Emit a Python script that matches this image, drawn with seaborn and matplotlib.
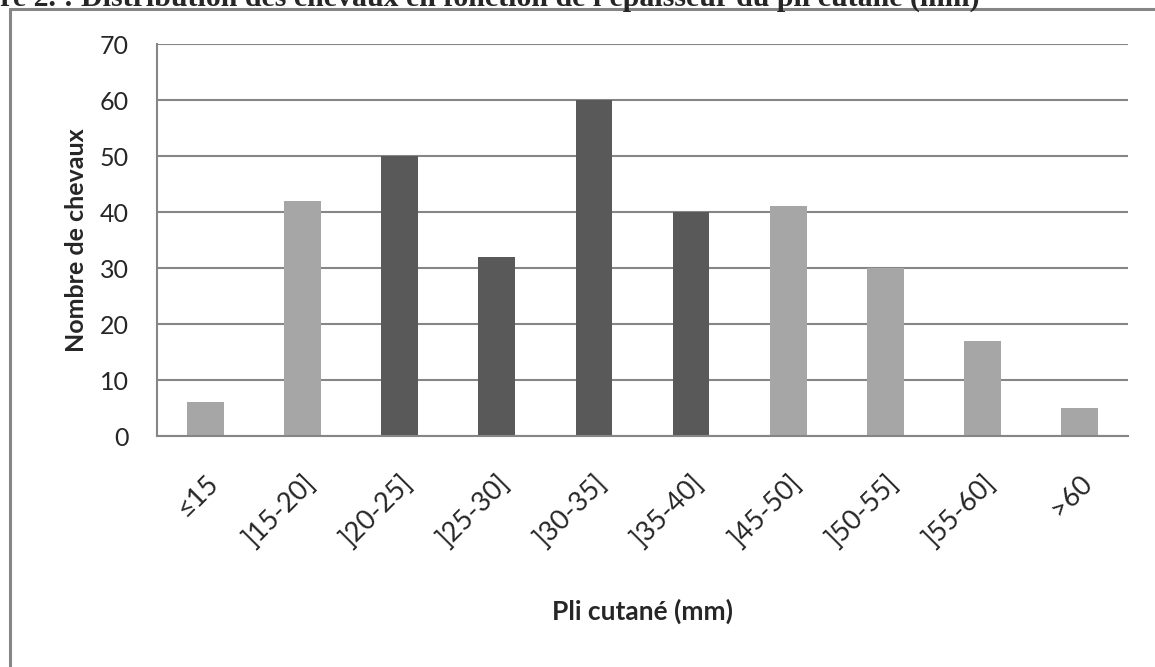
import matplotlib
matplotlib.use('Agg')
import matplotlib.pyplot as plt
import seaborn as sns
import pandas as pd
import numpy as np
from matplotlib.lines import Line2D

# data
classes = ['≤15', ']15-20]', ']20-25]', ']25-30]', ']30-35]', ']35-40]',
           ']45-50]', ']50-55]', ']55-60]', '>60']
nb_chevaux = [6, 42, 50, 32, 60, 40, 41, 30, 17, 5]
groupe = ['clair', 'clair', 'fonce', 'fonce', 'fonce', 'fonce',
          'clair', 'clair', 'clair', 'clair']

df = pd.DataFrame({'classe': classes, 'n': nb_chevaux, 'groupe': groupe})
couleurs = {'clair': '#a6a6a6', 'fonce': '#595959'}
gris = '#868686'

sns.set_style('white')
plt.rcParams['font.family'] = ['Lato', 'DejaVu Sans']

fig = plt.figure(figsize=(11.55, 6.67), dpi=100)
ax = fig.add_axes([157/1155, 1-436/667, (1128-157)/1155, (436-44)/667])

sns.barplot(data=df, x='classe', y='n', hue='groupe', palette=couleurs,
            width=0.38, dodge=False, legend=False, ax=ax, saturation=1,
            linewidth=0, edgecolor='none')

ax.set_ylim(0, 70)
ax.set_xlim(-0.5, len(classes) - 0.5)
ax.set_yticks(np.arange(0, 71, 10))
ax.yaxis.grid(True, color=gris, linewidth=1.5)
ax.set_axisbelow(True)

for s in ['top', 'right']:
    ax.spines[s].set_visible(False)
for s in ['left', 'bottom']:
    ax.spines[s].set_color(gris)
    ax.spines[s].set_linewidth(1.5)

# ticks between categories on x, labels at centers
ax.set_xticks(np.arange(-0.5, len(classes)), minor=True)
ax.tick_params(axis='x', which='minor', length=8, width=1.5, color=gris, direction='out')
ax.tick_params(axis='x', which='major', length=0, pad=25, labelsize=19.5)
ax.tick_params(axis='y', length=7.5, width=1.5, color=gris, direction='out', pad=13, labelsize=18)
ax.set_xticklabels(classes, rotation=45, ha='right', rotation_mode='anchor')

ax.set_xlabel('Pli cutané (mm)', fontsize=19, fontweight='bold')
ax.xaxis.set_label_coords(0.5, -0.415)
ax.set_ylabel('Nombre de chevaux', fontsize=18, fontweight='bold', labelpad=8)

# cadre du graphique (coupé en bas et à droite)
fig.add_artist(Line2D([9.5/1155, 9.5/1155], [-0.1, 1-9/667], color=gris, linewidth=2.2,
                      transform=fig.transFigure))
fig.add_artist(Line2D([9.5/1155, 1.1], [1-9/667, 1-9/667], color=gris, linewidth=2.2,
                      transform=fig.transFigure))

# titre coupé en haut de l'image
fig.text(980/1155, 1-6/667, "Figure 2. : Distribution des chevaux en fonction de l'épaisseur du pli cutané (mm)",
         ha='right', va='baseline', fontsize=21.5, fontweight='bold', family='Liberation Serif')

fig.savefig('out.png', dpi=100)
